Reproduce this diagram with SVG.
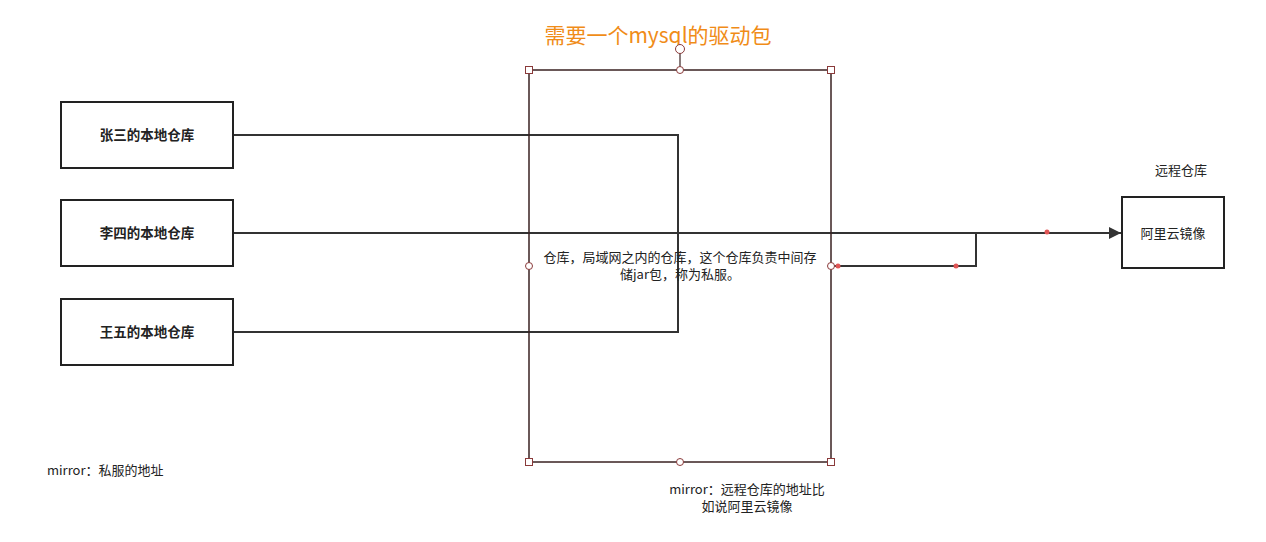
<svg xmlns="http://www.w3.org/2000/svg" width="1266" height="542" viewBox="0 0 1266 542">
<style>
.box{fill:#fff;stroke:#222;stroke-width:2}
.lbl{font-family:"Noto Sans CJK SC","Liberation Sans",sans-serif;font-size:13px;fill:#222;text-anchor:middle}
.b{font-weight:bold;font-size:13.5px}
.conn{fill:none;stroke:#333;stroke-width:2}
.hs{fill:#fff;stroke:#8a3a3a;stroke-width:1}
.dot{fill:#e05555}
</style>
<defs>
<marker id="arr" viewBox="0 0 10 10" refX="10" refY="5" markerWidth="8.5" markerHeight="6" markerUnits="strokeWidth" orient="auto"><path d="M0,0 L10,5 L0,10 z" fill="#333"/></marker>
</defs>
<rect width="1266" height="542" fill="#fff"/>
<text x="658" y="43" font-family="Noto Sans CJK SC,Liberation Sans,sans-serif" font-size="21" fill="#f08c18" text-anchor="middle">需要一个mysql的驱动包</text>
<g id="connectors">
<path class="conn" d="M233,135 H678 V332 H233"/>
<path class="conn" d="M233,233 H1121" marker-end="url(#arr)"/>
<path class="conn" d="M831,266 H976 V233"/>
</g>
<g id="private-server">
<rect x="529" y="70" width="302" height="392" fill="none" stroke="#3a2222" stroke-width="1.5"/>
<text class="lbl" x="680" y="262">仓库，局域网之内的仓库，这个仓库负责中间存</text>
<text class="lbl" x="680" y="279">储jar包，称为私服。</text>
<line x1="680" y1="49" x2="680" y2="70" stroke="#3a2222" stroke-width="1.2"/>
<circle class="hs" cx="680" cy="49" r="4.5" stroke-width="1.3" stroke="#3a2222"/>
<rect class="hs" x="525.5" y="66.5" width="7" height="7"/>
<rect class="hs" x="827.5" y="66.5" width="7" height="7"/>
<rect class="hs" x="525.5" y="458.5" width="7" height="7"/>
<rect class="hs" x="827.5" y="458.5" width="7" height="7"/>
<circle class="hs" cx="680" cy="70" r="3.5"/>
<circle class="hs" cx="680" cy="462" r="3.5"/>
<circle class="hs" cx="529" cy="266" r="3.5"/>
<circle class="hs" cx="831" cy="266" r="3.5"/>
<circle class="dot" cx="838" cy="266" r="2.5"/>
<circle class="dot" cx="956" cy="266" r="2.5"/>
<circle class="dot" cx="1047" cy="232" r="2.5"/>
</g>
<g id="zhangsan">
<rect class="box" x="61" y="102" width="172" height="66"/>
<text class="lbl b" x="147" y="140">张三的本地仓库</text>
</g>
<g id="lisi">
<rect class="box" x="61" y="200" width="172" height="66"/>
<text class="lbl b" x="147" y="238">李四的本地仓库</text>
</g>
<g id="wangwu">
<rect class="box" x="61" y="299" width="172" height="66"/>
<text class="lbl b" x="147" y="337">王五的本地仓库</text>
</g>
<g id="aliyun">
<rect class="box" x="1122" y="197" width="102" height="71"/>
<text class="lbl" x="1173" y="238">阿里云镜像</text>
</g>
<g id="labels">
<text class="lbl" x="1181" y="175">远程仓库</text>
<text class="lbl" x="47" y="475" style="text-anchor:start">mirror：私服的地址</text>
<text class="lbl" x="747" y="494">mirror：远程仓库的地址比</text>
<text class="lbl" x="747" y="511">如说阿里云镜像</text>
</g>
</svg>
